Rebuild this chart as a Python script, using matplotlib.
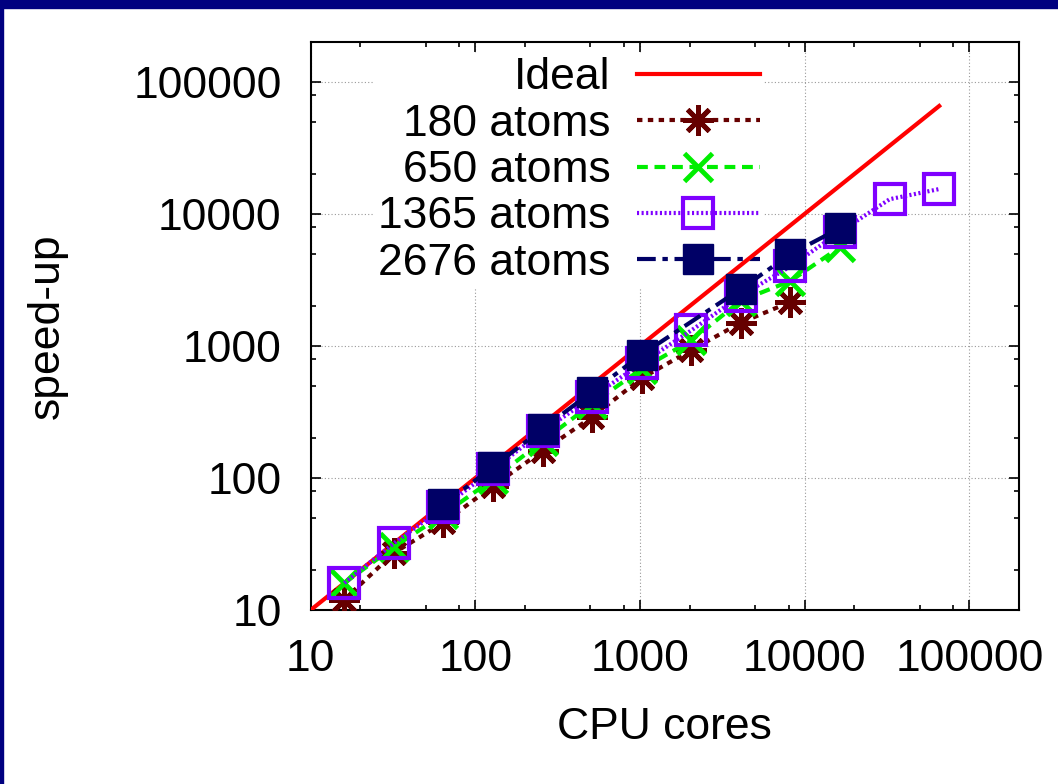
import matplotlib
matplotlib.use("Agg")
import matplotlib.pyplot as plt
from matplotlib.patches import Rectangle
from matplotlib.ticker import FixedLocator, NullFormatter

plt.rcParams['font.family'] = ['Liberation Sans', 'DejaVu Sans']

# data
cores = [16, 32, 64, 128, 256, 512, 1024, 2048, 4096, 8192, 16384, 32768, 65536]
ideal_x = [1, 65536]
ideal_y = [1, 65536]
speedup_180 = [12, 27, 46, 87, 160, 290, 570, 930, 1500, 2150]
speedup_650 = [16, 30, 53, 98, 190, 365, 670, 1100, 2200, 3100, 5600]
speedup_1365 = [16, 32, 60, 116, 225, 410, 740, 1310, 2400, 4000, 7300, 12900, 15400]
cores_2676 = [64, 128, 256, 512, 1024, 4096, 8192, 16384]
speedup_2676 = [63, 121, 236, 450, 860, 2700, 4950, 7800]

W, H = 1058, 784
fig = plt.figure(figsize=(W / 100, H / 100), dpi=100)
ax = fig.add_axes([310.7 / W, 1 - 610 / H, (1019 - 310.7) / W, (610 - 42) / H])

ax.plot(ideal_x, ideal_y, color='#ff0000', lw=3, label='Ideal', zorder=3)
ax.plot(cores[:len(speedup_180)], speedup_180, color='#660000', ls=(0, (1.3, 1.3)), lw=3,
        marker=(8, 2, 0), ms=22, mew=3.5, label='180 atoms', zorder=3)
ax.plot(cores[:len(speedup_650)], speedup_650, color='#00ee00', ls=(0, (2.6, 1.6)), lw=3,
        marker='x', ms=20, mew=3.5, label='650 atoms', zorder=3)
ax.plot(cores, speedup_1365, color='#7f00ff', ls=(0, (0.5, 0.6)), lw=3,
        marker='s', ms=21, mew=3, mfc='none', label='1365 atoms', zorder=3)
ax.plot(cores_2676, speedup_2676, color='#000066', ls=(0, (4.5, 1.6, 1.3, 1.6)), lw=3,
        marker='s', ms=22, mew=1, label='2676 atoms', zorder=3)

ax.set_xscale('log')
ax.set_yscale('log')
ax.set_xlim(10, 2e5)
ax.set_ylim(10, 2e5)

majors = [10, 100, 1000, 10000, 100000]
minors = [m * d for d in [10, 100, 1000, 10000] for m in (2, 5, 8)]
for axis in (ax.xaxis, ax.yaxis):
    axis.set_major_locator(FixedLocator(majors))
    axis.set_minor_locator(FixedLocator(minors))
    axis.set_minor_formatter(NullFormatter())
ax.set_xticklabels([str(v) for v in majors])
ax.set_yticklabels([str(v) for v in majors])

ax.tick_params(which='both', direction='in', top=True, right=True, width=1.2, labelsize=32)
ax.tick_params(which='major', length=7)
ax.tick_params(which='minor', length=3.5)
ax.tick_params(axis='x', pad=21)
ax.tick_params(axis='y', pad=21)
for s in ax.spines.values():
    s.set_linewidth(1.5)

ax.grid(True, which='major', color='#999999', ls=(0, (1, 2)), lw=0.8)

ax.set_xlabel('CPU cores', fontsize=32, labelpad=19)
ax.set_ylabel('speed-up', fontsize=32, labelpad=47)

leg = ax.legend(loc='upper right', bbox_to_anchor=((764 - 310.7) / 708.3, (610 - 53) / 568),
                fontsize=32, markerfirst=False, handlelength=2.75, handletextpad=0.6,
                labelspacing=0.12, borderpad=0.1, borderaxespad=0, fancybox=False,
                framealpha=1, facecolor='white', edgecolor='none')
# key box hides the grid but stays behind the data marks
leg.set_zorder(2.2)

# navy frame of the slide
fig.patches.append(Rectangle((0, 0), 3 / W, 1, transform=fig.transFigure,
                             color='#000080', zorder=10))
fig.patches.append(Rectangle((0, 1 - 8 / H), 1, 8 / H, transform=fig.transFigure,
                             color='#000080', zorder=10))

plt.savefig("out.png", dpi=100)
plt.close()
